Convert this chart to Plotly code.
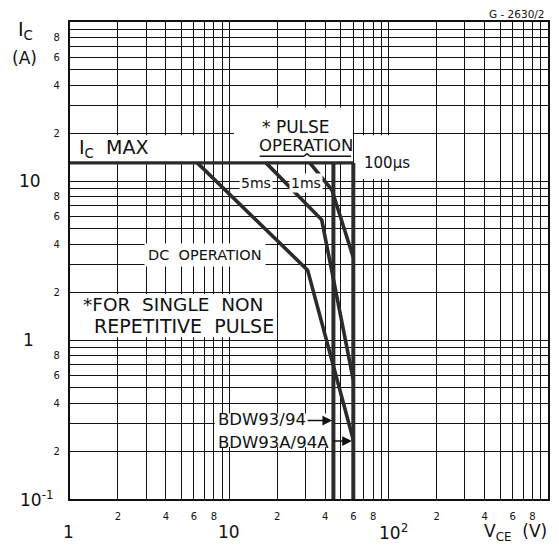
import numpy as np
import plotly.graph_objects as go

# ---------------- data ----------------
ic_max = 13.0
vce_max_93 = 45.0     # BDW93/94
vce_max_93a = 60.0    # BDW93A/94A
ic_min_axis = 0.1

icmax_v = [1.0, 60.0]
icmax_i = [ic_max, ic_max]

dc_v = [6.3, 31.0, 60.0]
dc_i = [13.0, 2.75, 0.235]

ms5_v = [17.0, 38.0, 60.0]
ms5_i = [13.0, 5.7, 0.56]

ms1_v = [32.0, 44.0, 60.0]
ms1_i = [13.0, 8.8, 3.3]

lim93_v = [vce_max_93, vce_max_93]
lim93_i = [ic_max, ic_min_axis]
lim93a_v = [vce_max_93a, vce_max_93a]
lim93a_i = [ic_max, ic_min_axis]

decades = [1, 10, 100]
digits = [1, 2, 3, 4, 5, 6, 7, 8, 9]
x_tickvals = [d * k for k in decades for d in digits] + [1000]
x_ticktext = [str(d) if d in (2, 4, 6, 8) else " " for k in decades for d in digits] + [" "]
y_decades = [0.1, 1, 10]
y_tickvals = [d * k for k in y_decades for d in digits] + [100]
y_ticktext = [str(d) if d in (2, 4, 6, 8) else " " for k in y_decades for d in digits] + [" "]

FONT = "DejaVu Sans"
INK = "#111111"
CURVE = "#2b2b2b"

fig = go.Figure()

def add_line(xv, yv, w=3.6):
    fig.add_trace(go.Scatter(x=xv, y=yv, mode="lines",
                             line=dict(color=CURVE, width=w),
                             hoverinfo="skip", showlegend=False))

add_line(icmax_v, icmax_i, 3.4)
add_line(dc_v, dc_i)
add_line(ms5_v, ms5_i)
add_line(ms1_v, ms1_i)
add_line(lim93_v, lim93_i, 4.0)
add_line(lim93a_v, lim93a_i, 4.0)

# white label boxes (between grid and traces)
boxes = [
    (1.0, 6.2, 13.2, 19.4),     # IC MAX
    (10.7, 59.5, 13.2, 29.0),   # PULSE OPERATION
    (61.5, 104.0, 10.3, 19.4),  # 100us
    (1.0, 19.5, 1.04, 1.95),    # FOR SINGLE NON REPETITIVE
    (8.1, 44.0, 0.212, 0.345),  # BDW labels
]
for x0, x1, y0, y1 in boxes:
    fig.add_shape(type="rect", xref="x", yref="y", x0=x0, x1=x1, y0=y0, y1=y1,
                  fillcolor="white", line=dict(width=0), layer="between")

# brace under OPERATION
brace = [((15.5, 14.3), (29.5, 14.3)), ((32.0, 14.3), (58.0, 14.3)),
         ((29.5, 14.3), (30.7, 14.9)), ((30.7, 14.9), (32.0, 14.3))]
for (a, b) in brace:
    fig.add_shape(type="line", xref="x", yref="y", x0=a[0], x1=b[0], y0=a[1], y1=b[1],
                  line=dict(color=INK, width=1.5), layer="above")

def ann(text, x, y, size=15, xanchor="center", xref="x", yref="y", bg=None, pad=1, **kw):
    fig.add_annotation(text=text, x=x, y=y, xref=xref, yref=yref, showarrow=False,
                       xanchor=xanchor, yanchor="middle",
                       font=dict(family=FONT, size=size, color=INK),
                       bgcolor=bg, borderpad=pad, **kw)

lg = np.log10
ann("I<sub>C</sub>  MAX", lg(1.1), 1.2075, size=19, xanchor="left")
ann("* PULSE", 1.419, 1.34, size=17)
ann("OPERATION", 1.481, 1.226, size=16.5)
ann("100µs", 1.833, 1.113, size=15, xanchor="left")
ann("5ms", 1.168, 0.9874, size=14, bg="white", pad=1)
ann("1ms", 1.481, 0.987, size=14, bg="white", pad=1)
ann("DC  OPERATION", 0.8475, 0.535, size=14.5, bg="white", pad=3)
ann("*FOR  SINGLE  NON", lg(1.18), 0.2264, size=18.5, xanchor="left")
ann("REPETITIVE  PULSE", lg(1.38), 0.088, size=19, xanchor="left")
ann("BDW93/94", 0.918, -0.497, size=16.5, xanchor="left")
ann("BDW93A/94A", 0.918, -0.6415, size=16.5, xanchor="left")

# arrows
for (tx, ty, axp) in [(lg(44.2), -0.507, -26), (lg(58.8), -0.636, -20)]:
    fig.add_annotation(x=tx, y=ty, xref="x", yref="y", text="", showarrow=True,
                       ax=axp, ay=0, arrowhead=2, arrowsize=1.3, arrowwidth=1.5,
                       arrowcolor=INK)

# major tick labels
ann("10", (43 - 70) / 478, 1.0, size=17, xanchor="right", xref="paper", yref="y")
ann("1", (36 - 70) / 478, 0.0, size=17, xanchor="right", xref="paper", yref="y")
ann("10<sup>-1</sup>", (56 - 70) / 478, -1.0, size=17, xanchor="right", xref="paper", yref="y")
ann("1", 0.0, -0.069, size=17, xref="x", yref="paper", xshift=-2)
ann("10", 1.0, -0.069, size=17, xref="x", yref="paper")
ann("10<sup>2</sup>", 2.0, -0.069, size=17, xref="x", yref="paper", xshift=5)
ann("V<sub>CE</sub>  (V)", (482 - 70) / 478, -0.071, size=17, xanchor="left", xref="paper", yref="paper")
ann("I<sub>C</sub>", (16 - 70) / 478, 0.982, size=19, xanchor="left", xref="paper", yref="paper")
ann("(A)", (24 - 70) / 478, 0.925, size=17, xref="paper", yref="paper")
ann("G - 2630/2", 0.998, 1.016, size=10.5, xanchor="right", xref="paper", yref="paper")

axis_common = dict(type="log", showgrid=True, gridcolor=INK, gridwidth=1.2,
                   showline=True, linecolor=INK, linewidth=2.2, mirror=True,
                   ticks="", tickfont=dict(family=FONT, size=10, color=INK),
                   zeroline=False, layer="above traces", automargin=False)

fig.update_xaxes(range=[0, 3], tickmode="array", tickvals=x_tickvals, ticktext=x_ticktext,
                 ticklabelstandoff=7, **axis_common)
fig.update_yaxes(range=[-1, 2], tickmode="array", tickvals=y_tickvals, ticktext=y_ticktext,
                 ticklabelstandoff=6, **axis_common)

# page body has an 8px margin; size figure so the plot area lands at 70..548 x 22..499
fig.update_layout(width=551, height=540, margin=dict(l=62, r=11, t=14, b=49),
                  plot_bgcolor="white", paper_bgcolor="white", showlegend=False,
                  template="none", font=dict(family=FONT, color=INK))

fig.write_html("out.html")
